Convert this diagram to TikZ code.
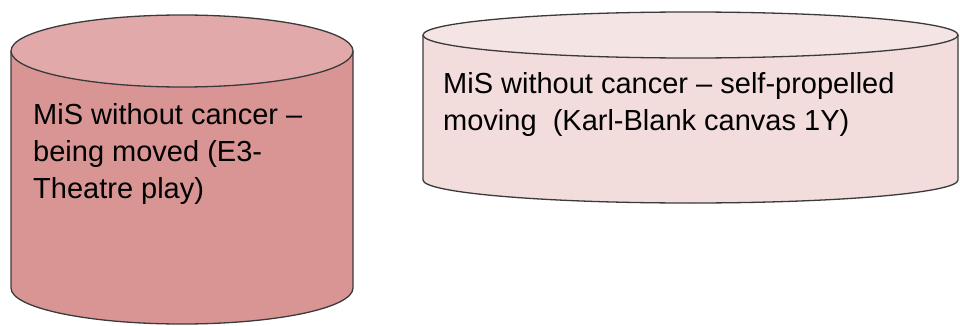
\documentclass[tikz,border=0pt]{standalone}
\usepackage{fontspec}
\setmainfont{Liberation Sans}
\usetikzlibrary{positioning}

\definecolor{roseside}{HTML}{D99594}
\definecolor{rosetop}{HTML}{E1A9A9}
\definecolor{paleside}{HTML}{F2DCDC}
\definecolor{paletop}{HTML}{F5E4E4}
\definecolor{rim}{HTML}{3A3A3A}

\begin{document}
\begin{tikzpicture}[x=1pt,y=1pt, rim/.style={draw=rim, line width=1.3pt},
    label/.style={align=left, inner sep=0pt, anchor=base west,
    font=\fontsize{29}{37}\selectfont}]
  \useasboundingbox (0,0) rectangle (960,325);
  % left drum, tall
  \filldraw[rim, fill=roseside] (11,274) -- (11,37)
    arc[start angle=180, end angle=360, x radius=171, y radius=36] -- (353,274);
  \filldraw[rim, fill=rosetop] (182,274) ellipse [x radius=171, y radius=36];
  % right drum, flat
  \filldraw[rim, fill=paleside] (423,290) -- (423,145)
    arc[start angle=180, end angle=360, x radius=267.5, y radius=23] -- (958,290);
  \filldraw[rim, fill=paletop] (690.5,290) ellipse [x radius=267.5, y radius=23];
  % base anchor sits on the last line
  \node[label] (A) at (33,127) {MiS without cancer --\\being moved (E3-\\Theatre play)};
  \node[label] (B) at (443,195) {MiS without cancer -- self-propelled\\moving\ \ (Karl-Blank canvas 1Y)};
\end{tikzpicture}
\end{document}
